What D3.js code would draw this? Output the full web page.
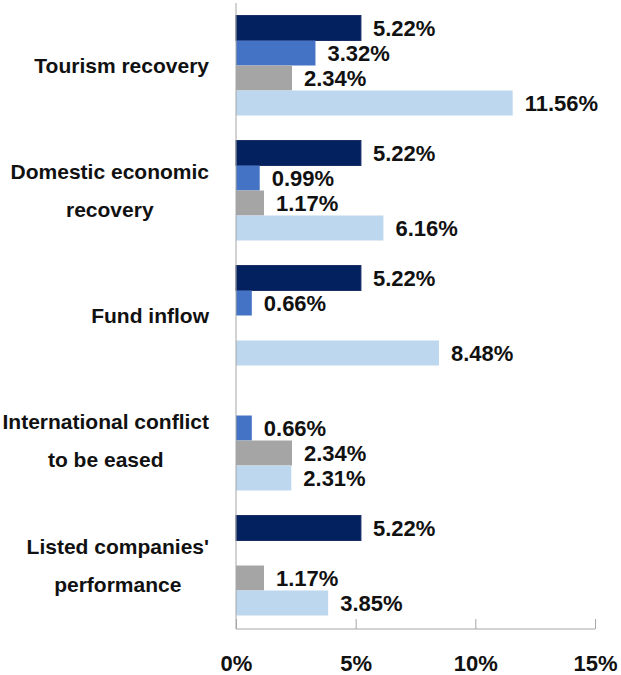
<!DOCTYPE html>
<html>
<head>
<meta charset="utf-8">
<script src="https://cdn.jsdelivr.net/npm/d3@7"></script>
<style>
  body { margin: 0; background: #fff; }
  text { font-family: "Liberation Sans", Arial, Helvetica, sans-serif; font-weight: bold; fill: #111; }
</style>
</head>
<body>
<svg width="621" height="675"></svg>
<script>
// categories (each label split into lines)
const categories = [
  ["Tourism recovery"],
  ["Domestic economic", "recovery"],
  ["Fund inflow"],
  ["International conflict", "to be eased"],
  ["Listed companies'", "performance"]
];
// four series, null = no bar
const series1 = [5.22, 5.22, 5.22, null, 5.22];
const series2 = [3.32, 0.99, 0.66, 0.66, null];
const series3 = [2.34, 1.17, null, 2.34, 1.17];
const series4 = [11.56, 6.16, 8.48, 2.31, 3.85];
const colors = ["#03215f", "#4472c4", "#a5a5a5", "#bdd7ee"];
const xTicks = [0, 5, 10, 15];

const allSeries = [series1, series2, series3, series4];

const svg = d3.select("svg");

const x = d3.scaleLinear().domain([0, 15]).range([236, 595]);
const y0 = d3.scaleBand().domain(d3.range(categories.length)).range([3, 628])
  .paddingInner(0.2).paddingOuter(0.1);
const y1 = d3.scaleBand().domain(d3.range(allSeries.length)).range([0, y0.bandwidth()]);

// bars
const groups = svg.append("g").selectAll("g")
  .data(categories)
  .enter().append("g")
  .attr("transform", (d, i) => "translate(0," + y0(i) + ")");

groups.each(function(d, ci) {
  const g = d3.select(this);
  allSeries.forEach((s, si) => {
    const v = s[ci];
    if (v == null) return;
    g.append("rect")
      .attr("x", x(0))
      .attr("y", y1(si))
      .attr("width", x(v) - x(0))
      .attr("height", y1.bandwidth())
      .attr("fill", colors[si])
      .attr("stroke", si === 0 ? "#1a2f66" : "none")
      .attr("stroke-width", 1);
    g.append("text")
      .attr("x", x(v) + 12)
      .attr("y", y1(si) + y1.bandwidth() / 2)
      .attr("dy", "0.36em")
      .style("font-size", "22px")
      .text(v.toFixed(2) + "%");
  });
});

// category labels: block right-aligned, lines centered inside it
const labelRight = 209;
const lineGap = 38;
categories.forEach((lines, ci) => {
  const cy = y0(ci) + y0.bandwidth() / 2;
  const tmp = svg.append("g");
  const widths = lines.map(l => {
    const t = tmp.append("text").style("font-size", "21px").text(l);
    return t.node().getComputedTextLength();
  });
  tmp.remove();
  const cx = labelRight - d3.max(widths) / 2;
  lines.forEach((l, li) => {
    svg.append("text")
      .attr("x", cx)
      .attr("y", cy + (li - (lines.length - 1) / 2) * lineGap)
      .attr("dy", "0.36em")
      .attr("text-anchor", "middle")
      .style("font-size", "21px")
      .text(l);
  });
});

// vertical axis line
svg.append("line")
  .attr("x1", x(0)).attr("x2", x(0))
  .attr("y1", 3).attr("y2", 629)
  .attr("stroke", "#a6a6a6").attr("stroke-width", 1);

// bottom axis
const xAxis = d3.axisBottom(x).tickValues(xTicks).tickSize(-10).tickPadding(26)
  .tickFormat(d => d + "%");
const ax = svg.append("g").attr("transform", "translate(0,629)").call(xAxis);
ax.select(".domain").attr("stroke", "#a6a6a6").attr("d", "M" + x(0) + ",0H" + x(15));
ax.selectAll(".tick line").attr("stroke", "#a6a6a6");
ax.selectAll(".tick text")
  .style("font-size", "22px")
  .style("font-family", "Liberation Sans, Arial, sans-serif")
  .style("font-weight", "bold")
  .attr("fill", "#111");
</script>
</body>
</html>
